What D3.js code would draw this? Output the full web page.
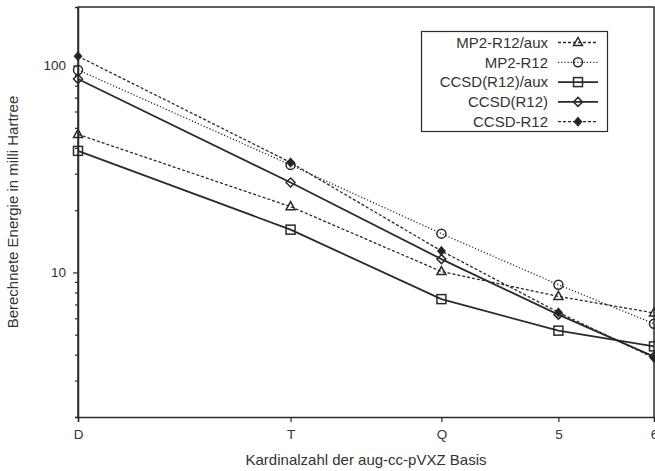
<!DOCTYPE html>
<html><head><meta charset="utf-8">
<script src="https://cdn.jsdelivr.net/npm/d3@7"></script>
<style>
body{margin:0;background:#fff;}
text{font-family:"Liberation Sans",Arial,sans-serif;fill:#333;}
</style></head>
<body><svg id="c" width="655" height="471"></svg>
<script>
const basisN = [2, 3, 4, 5, 6];
const basisLabels = ["D", "T", "Q", "5", "6"];
const seriesNames = ["MP2-R12/aux", "MP2-R12", "CCSD(R12)/aux", "CCSD(R12)", "CCSD-R12"];
const mp2R12aux = [46.5, 20.8, 10.1, 7.66, 6.37];
const mp2R12 = [95.3, 33.1, 15.4, 8.72, 5.65];
const ccsdR12aux = [38.7, 16.1, 7.43, 5.23, 4.39];
const ccsdR12 = [86.2, 27.2, 11.6, 6.25, 3.92];
const ccsdMinusR12 = [111, 34.0, 12.7, 6.41, 3.86];
const yMajorTicks = [10, 100];
const yMinorTicks = [2,3,4,5,6,7,8,9,20,30,40,50,60,70,80,90];

const series = [
  {name: seriesNames[0], values: mp2R12aux, dash: "3,2", width: 1.3, marker: "triangle", fill: "none"},
  {name: seriesNames[1], values: mp2R12, dash: "1.2,2", width: 1.3, marker: "circle", fill: "none"},
  {name: seriesNames[2], values: ccsdR12aux, dash: null, width: 1.8, marker: "square", fill: "none"},
  {name: seriesNames[3], values: ccsdR12, dash: null, width: 1.8, marker: "diamond", fill: "none"},
  {name: seriesNames[4], values: ccsdMinusR12, dash: "3,2", width: 1.3, marker: "fdiamond", fill: "#222"}
];

const svg = d3.select("#c");
const x = d3.scaleLog().domain([2, 6]).range([78, 654]);
const y = d3.scaleLog().domain([2, 192]).range([417, 7]);
const ink = "#2a2a2a";

// frame (top and right)
svg.append("path")
  .attr("d", `M${x(2)},${y(192)}H${x(6)}V${y(2)}`)
  .attr("fill", "none").attr("stroke", ink).attr("stroke-width", 1.5);

// x axis
const xa = svg.append("g").attr("transform", `translate(0,${y(2)})`)
  .call(d3.axisBottom(x).tickValues(basisN).tickFormat((d,i)=>basisLabels[i]).tickSizeOuter(0).tickSize(5).tickPadding(7));
// y axis
const ya = svg.append("g").attr("transform", `translate(${x(2)},0)`)
  .call(d3.axisLeft(y).tickValues(yMajorTicks).tickFormat(d3.format("d")).tickSizeOuter(0).tickSize(5).tickPadding(7));
const ym = svg.append("g").attr("transform", `translate(${x(2)},0)`)
  .call(d3.axisLeft(y).tickValues(yMinorTicks).tickFormat("").tickSizeOuter(0).tickSize(3));
[xa, ya, ym].forEach(g => {
  g.selectAll("path.domain").attr("stroke", ink).attr("stroke-width", 1.5);
  g.selectAll(".tick line").attr("stroke", ink).attr("stroke-width", 1.2);
  g.selectAll(".tick text").style("font-family", '"Liberation Sans",Arial,sans-serif').style("font-size", "13.5px").attr("fill", "#333");
});
ya.select("path.domain").attr("d", `M0,${y(2)}V${y(192)}`);

// axis titles
svg.append("text").attr("x", 366).attr("y", 465).attr("text-anchor", "middle")
  .style("font-size", "15px").text("Kardinalzahl der aug-cc-pVXZ Basis");
svg.append("text").attr("transform", `translate(18,212) rotate(-90)`).attr("text-anchor", "middle")
  .style("font-size", "15px").text("Berechnete Energie in milli Hartree");

function drawMarker(g, type, cx, cy, fill) {
  let p;
  if (type === "triangle") p = g.append("path").attr("d", `M${cx},${cy-5}L${cx+4.5},${cy+3}L${cx-4.5},${cy+3}Z`);
  else if (type === "circle") p = g.append("circle").attr("cx", cx).attr("cy", cy).attr("r", 4.5);
  else if (type === "square") p = g.append("rect").attr("x", cx-4.5).attr("y", cy-4.5).attr("width", 9).attr("height", 9);
  else if (type === "diamond") p = g.append("path").attr("d", `M${cx},${cy-4.5}L${cx+4.5},${cy}L${cx},${cy+4.5}L${cx-4.5},${cy}Z`);
  else p = g.append("path").attr("d", `M${cx},${cy-4}L${cx+3.5},${cy}L${cx},${cy+4}L${cx-3.5},${cy}Z`);
  p.attr("fill", fill).attr("stroke", ink).attr("stroke-width", 1.5);
}

const line = d3.line().x((d,i)=>x(basisN[i])).y(d=>y(d));
series.forEach(s => {
  const g = svg.append("g");
  g.append("path").attr("d", line(s.values)).attr("fill", "none")
    .attr("stroke", ink).attr("stroke-width", s.width).attr("stroke-dasharray", s.dash);
  s.values.forEach((v,i) => drawMarker(g, s.marker, x(basisN[i]), y(v), s.fill));
});

// legend
const lg = svg.append("g");
lg.append("rect").attr("x", 421.5).attr("y", 31.5).attr("width", 186).attr("height", 100)
  .attr("fill", "#fff").attr("stroke", ink).attr("stroke-width", 1.2);
series.forEach((s, i) => {
  const cy = 42.5 + i * 19.8;
  lg.append("text").attr("x", 548).attr("y", cy + 5.3).attr("text-anchor", "end")
    .style("font-size", "15px").text(s.name);
  lg.append("line").attr("x1", 558).attr("x2", 598).attr("y1", cy).attr("y2", cy)
    .attr("stroke", ink).attr("stroke-width", s.width).attr("stroke-dasharray", s.dash);
  drawMarker(lg, s.marker, 578, cy, s.fill);
});
</script></body></html>
